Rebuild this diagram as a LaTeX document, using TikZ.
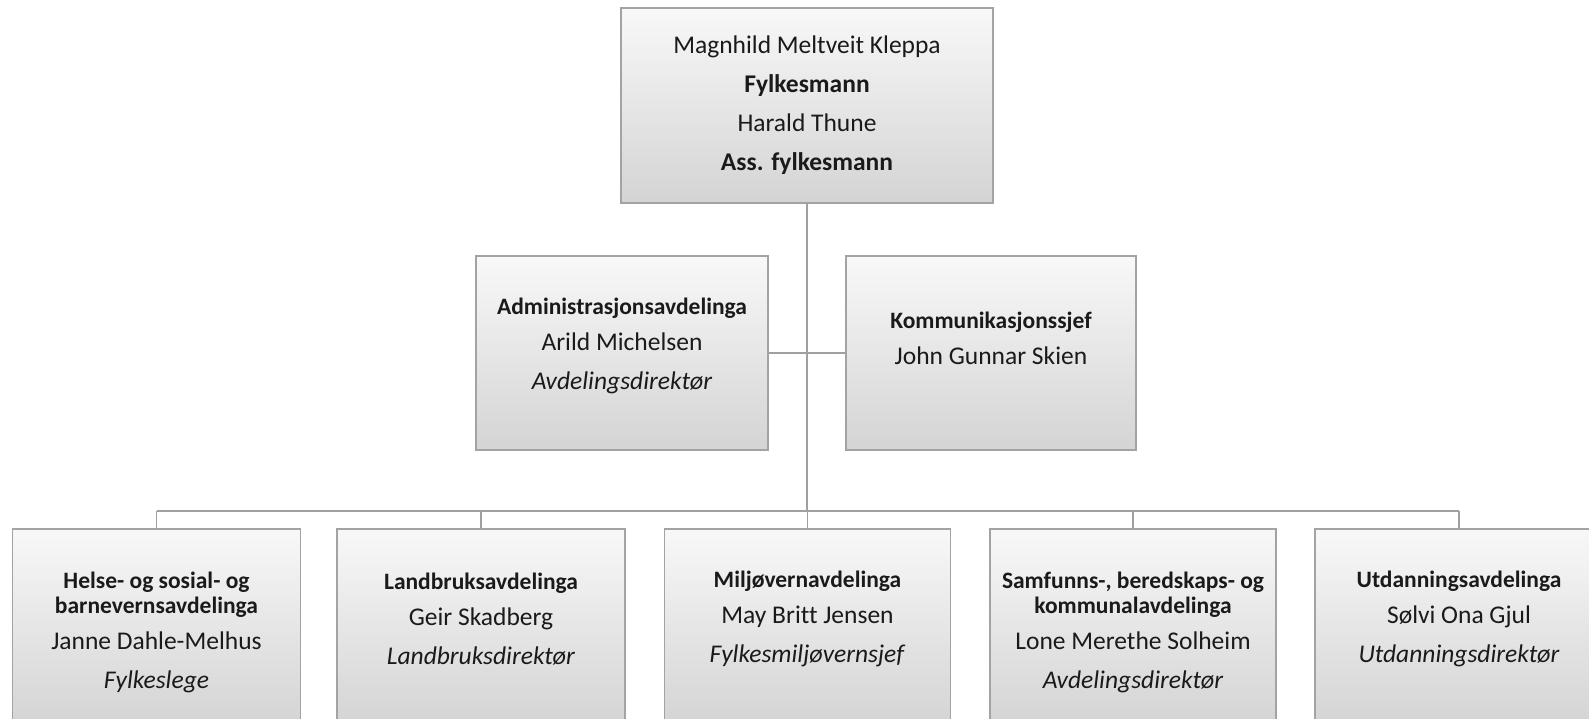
\documentclass[tikz,border=0pt]{standalone}
\usepackage{fontspec}
\setmainfont{Carlito}[Ligatures=NoCommon]
\definecolor{boxline}{HTML}{A3A3A3}
\definecolor{boxtop}{HTML}{F8F8F8}
\definecolor{boxbot}{HTML}{D4D4D4}
\definecolor{lineclr}{HTML}{A0A0A0}
\definecolor{textclr}{HTML}{1A1A1A}
\newcommand\orgtitle[1]{{\fontsize{23.5}{26}\selectfont\bfseries #1}}
\begin{document}
\begin{tikzpicture}[x=1pt,y=-1pt,
  orgbox/.style={draw=boxline, line width=1.8pt, top color=boxtop, bottom color=boxbot,
    minimum width=#1, minimum height=195pt, inner sep=0pt},
  txt/.style={align=center, font=\fontsize{25.5}{39}\selectfont, text=textclr, inner sep=0pt},
  conn/.style={draw=lineclr, line width=1.8pt}]
\useasboundingbox (0,0) rectangle (1589,719);
\fill[white] (0,0) rectangle (1589,719);
\clip (0,0) rectangle (1589,719);
% boxes
\node[orgbox=372pt] (top) at (807,105.5) {};
\node[orgbox=292pt, minimum height=194pt] (admin) at (622,353) {};
\node[orgbox=290pt, minimum height=194pt] (komm) at (991,353) {};
\node[orgbox=288pt] (b1) at (156.5,626.5) {};
\node[orgbox=288pt] (b2) at (481,626.5) {};
\node[orgbox=286pt] (b3) at (807.5,626.5) {};
\node[orgbox=286pt] (b4) at (1133,626.5) {};
\node[orgbox=288pt] (b5) at (1459,626.5) {};
% connectors
\coordinate (busL) at (156.5,511);
\coordinate (busR) at (1459,511);
\draw[conn] (top.south) -- (top.south |- busL);
\draw[conn] (busL) -- (busR);
\draw[conn] (admin.east) -- (komm.west);
\foreach \b in {b1,b2,b3,b4,b5}
  \draw[conn] (\b.north |- busL) -- (\b.north);
% texts
\node[txt] (ttop) at (807,105) {Magnhild Meltveit Kleppa\\ \textbf{Fylkesmann}\\ Harald Thune\\ \textbf{Ass. fylkesmann}};
\node[txt] (tadmin) at (622,346) {\orgtitle{Administrasjonsavdelinga}\\[-3pt] Arild Michelsen\\ \textit{Avdelingsdirektør}};
\node[txt] (tkomm) at (991,338) {\orgtitle{Kommunikasjonssjef}\\[-3pt] John Gunnar Skien};
\node[txt] (tb1) at (156.5,632) {\orgtitle{Helse- og sosial- og}\\[-14pt] \orgtitle{barnevernsavdelinga}\\[-3pt] Janne Dahle-Melhus\\ \textit{Fylkeslege}};
\node[txt] (tb2) at (481,619) {\orgtitle{Landbruksavdelinga}\\[-3pt] Geir Skadberg\\ \textit{Landbruksdirektør}};
\node[txt] (tb3) at (807.5,619) {\orgtitle{Miljøvernavdelinga}\\[-3pt] May Britt Jensen\\ \textit{Fylkesmiljøvernsjef}};
\node[txt] (tb4) at (1133,632) {\orgtitle{Samfunns-, beredskaps- og}\\[-14pt] \orgtitle{kommunalavdelinga}\\[-3pt] Lone Merethe Solheim\\ \textit{Avdelingsdirektør}};
\node[txt] (tb5) at (1459,619) {\orgtitle{Utdanningsavdelinga}\\[-3pt] Sølvi Ona Gjul\\ \textit{Utdanningsdirektør}};
\end{tikzpicture}
\end{document}
